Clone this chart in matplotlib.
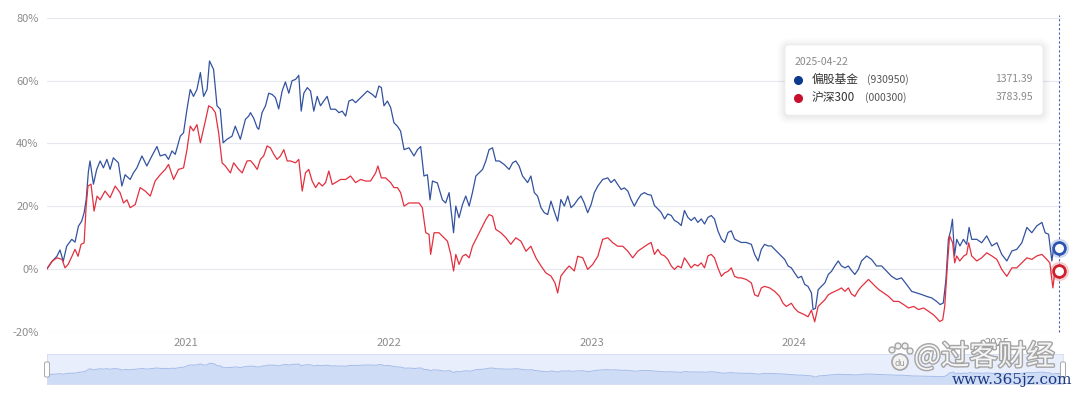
import numpy as np
import matplotlib.pyplot as plt
import matplotlib.patheffects as pe
from matplotlib.patches import FancyBboxPatch, Circle

plt.rcParams['font.family'] = ['Noto Sans CJK SC', 'DejaVu Sans']

# 偏股基金 (930950) 累计涨跌幅 %, 时间为小数年
fund_t = [2020.316, 2020.341, 2020.365, 2020.380, 2020.396, 2020.413, 2020.438, 2020.454, 2020.471, 2020.487,
          2020.499, 2020.509, 2020.520, 2020.528, 2020.545, 2020.561, 2020.578, 2020.594, 2020.611, 2020.627,
          2020.643, 2020.668, 2020.685, 2020.701, 2020.726, 2020.742, 2020.759, 2020.784, 2020.808, 2020.833,
          2020.858, 2020.874, 2020.899, 2020.915, 2020.932, 2020.948, 2020.973, 2020.989, 2021.006, 2021.022,
          2021.038, 2021.055, 2021.072, 2021.088, 2021.105, 2021.117, 2021.137, 2021.154, 2021.170, 2021.184,
          2021.203, 2021.228, 2021.244, 2021.269, 2021.294, 2021.310, 2021.319, 2021.335, 2021.352, 2021.360,
          2021.376, 2021.393, 2021.409, 2021.426, 2021.442, 2021.458, 2021.475, 2021.491, 2021.508, 2021.524,
          2021.541, 2021.557, 2021.569, 2021.582, 2021.599, 2021.615, 2021.631, 2021.648, 2021.664, 2021.680,
          2021.697, 2021.714, 2021.738, 2021.755, 2021.771, 2021.788, 2021.804, 2021.821, 2021.837, 2021.853,
          2021.878, 2021.895, 2021.920, 2021.936, 2021.952, 2021.964, 2021.977, 2021.994, 2022.010, 2022.026,
          2022.043, 2022.059, 2022.076, 2022.100, 2022.125, 2022.142, 2022.158, 2022.174, 2022.191, 2022.204,
          2022.216, 2022.240, 2022.265, 2022.281, 2022.298, 2022.320, 2022.331, 2022.347, 2022.364, 2022.380,
          2022.397, 2022.413, 2022.430, 2022.446, 2022.463, 2022.479, 2022.495, 2022.512, 2022.528, 2022.545,
          2022.569, 2022.594, 2022.611, 2022.627, 2022.643, 2022.660, 2022.685, 2022.701, 2022.718, 2022.734,
          2022.751, 2022.767, 2022.784, 2022.800, 2022.816, 2022.833, 2022.849, 2022.866, 2022.883, 2022.899,
          2022.915, 2022.932, 2022.948, 2022.964, 2022.981, 2022.998, 2023.014, 2023.031, 2023.055, 2023.080,
          2023.096, 2023.113, 2023.129, 2023.146, 2023.162, 2023.179, 2023.195, 2023.211, 2023.228, 2023.244,
          2023.261, 2023.277, 2023.294, 2023.310, 2023.327, 2023.343, 2023.360, 2023.376, 2023.393, 2023.409,
          2023.426, 2023.442, 2023.458, 2023.475, 2023.491, 2023.508, 2023.524, 2023.541, 2023.557, 2023.574,
          2023.590, 2023.606, 2023.623, 2023.640, 2023.656, 2023.673, 2023.689, 2023.705, 2023.722, 2023.738,
          2023.763, 2023.788, 2023.804, 2023.821, 2023.837, 2023.853, 2023.870, 2023.886, 2023.903, 2023.919,
          2023.936, 2023.952, 2023.969, 2023.985, 2024.001, 2024.018, 2024.035, 2024.051, 2024.067, 2024.084,
          2024.092, 2024.104, 2024.117, 2024.133, 2024.150, 2024.167, 2024.183, 2024.199, 2024.216, 2024.232,
          2024.249, 2024.266, 2024.281, 2024.298, 2024.315, 2024.331, 2024.356, 2024.380, 2024.405, 2024.430,
          2024.454, 2024.479, 2024.504, 2024.528, 2024.553, 2024.578, 2024.602, 2024.627, 2024.652, 2024.677,
          2024.701, 2024.718, 2024.734, 2024.747, 2024.759, 2024.770, 2024.779, 2024.789, 2024.800, 2024.816,
          2024.833, 2024.849, 2024.861, 2024.874, 2024.899, 2024.923, 2024.948, 2024.973, 2024.998, 2025.022,
          2025.047, 2025.072, 2025.096, 2025.121, 2025.146, 2025.170, 2025.195, 2025.220, 2025.236, 2025.253,
          2025.269, 2025.277, 2025.294, 2025.304]
fund_v = [0.0, 2.4, 4.0, 6.0, 2.4, 7.2, 9.4, 8.5, 13.6, 15.2,
          17.9, 22.0, 31.0, 34.4, 27.0, 31.7, 34.4, 32.2, 34.9, 31.7,
          35.4, 33.8, 26.4, 30.0, 28.5, 30.6, 32.2, 36.0, 32.8, 36.0,
          39.0, 36.0, 36.5, 34.9, 37.6, 36.5, 42.3, 43.4, 50.9, 57.2,
          55.0, 57.2, 62.6, 55.0, 57.2, 66.3, 63.6, 52.0, 50.9, 40.2,
          41.3, 42.3, 45.5, 41.3, 47.7, 48.7, 49.8, 48.0, 45.0, 44.5,
          49.8, 52.0, 56.0, 55.6, 54.6, 51.0, 56.7, 59.6, 56.0, 60.0,
          60.4, 61.7, 50.3, 56.0, 57.8, 56.7, 50.3, 55.0, 52.0, 53.5,
          55.0, 50.9, 50.9, 49.8, 50.3, 48.7, 53.5, 54.0, 53.0, 54.0,
          55.6, 56.7, 55.6, 54.6, 58.3, 57.8, 52.0, 53.5, 51.4, 46.6,
          45.5, 43.9, 38.0, 38.6, 36.0, 38.0, 39.0, 29.6, 30.0, 22.0,
          28.0, 27.4, 22.0, 21.0, 24.3, 11.5, 20.0, 16.3, 20.5, 23.2,
          20.0, 24.3, 29.6, 30.6, 31.7, 34.4, 38.0, 38.6, 34.4, 34.4,
          33.3, 31.7, 33.8, 34.4, 32.8, 29.6, 27.5, 29.6, 24.3, 23.2,
          19.5, 17.9, 17.3, 21.6, 18.4, 15.2, 22.1, 20.0, 23.2, 19.5,
          20.5, 22.1, 23.2, 21.0, 17.9, 20.5, 24.3, 26.4, 28.5, 29.0,
          27.5, 28.5, 26.9, 25.3, 25.8, 24.8, 22.1, 20.0, 22.1, 23.7,
          24.3, 23.7, 23.5, 20.2, 19.1, 18.0, 15.9, 17.5, 17.0, 15.4,
          14.8, 13.8, 18.6, 16.4, 15.4, 16.4, 14.8, 15.9, 14.3, 16.4,
          17.0, 15.9, 12.1, 9.5, 8.4, 11.6, 12.1, 9.5, 8.9, 8.4,
          8.4, 7.8, 4.6, 2.5, 6.2, 7.8, 7.3, 7.3, 6.2, 5.2,
          4.1, 3.0, 0.9, 0.3, -1.3, -2.9, -2.4, -5.0, -5.6, -7.7,
          -13.0, -12.6, -6.7, -5.6, -4.5, -1.8, -0.8, 0.9, 2.5, 0.9,
          0.3, 0.9, -0.5, -1.8, -0.2, 2.5, 4.1, 3.0, 0.9, 0.9,
          -0.7, -2.4, -3.4, -2.9, -5.0, -7.2, -7.7, -8.2, -8.8, -9.3,
          -10.4, -11.4, -10.9, -3.4, 9.4, 12.1, 15.8, 4.1, 9.4, 7.3,
          9.4, 7.8, 13.2, 9.4, 9.4, 8.3, 10.5, 7.3, 8.3, 4.6,
          2.5, 5.7, 6.2, 8.3, 13.2, 11.5, 13.7, 14.8, 11.5, 11.0,
          2.5, 6.2, 6.7, 6.7]

# 沪深300 (000300) 累计涨跌幅 %
hs_t = [2020.316, 2020.341, 2020.365, 2020.390, 2020.405, 2020.420, 2020.439, 2020.454, 2020.469, 2020.484,
        2020.499, 2020.509, 2020.518, 2020.533, 2020.548, 2020.563, 2020.578, 2020.602, 2020.627, 2020.652,
        2020.676, 2020.693, 2020.710, 2020.726, 2020.751, 2020.775, 2020.800, 2020.825, 2020.849, 2020.874,
        2020.899, 2020.915, 2020.940, 2020.964, 2020.989, 2021.006, 2021.022, 2021.038, 2021.055, 2021.072,
        2021.096, 2021.113, 2021.129, 2021.146, 2021.162, 2021.179, 2021.195, 2021.220, 2021.236, 2021.261,
        2021.278, 2021.302, 2021.319, 2021.335, 2021.352, 2021.368, 2021.384, 2021.401, 2021.417, 2021.434,
        2021.450, 2021.467, 2021.483, 2021.500, 2021.516, 2021.541, 2021.557, 2021.574, 2021.590, 2021.606,
        2021.623, 2021.640, 2021.656, 2021.673, 2021.689, 2021.705, 2021.722, 2021.738, 2021.763, 2021.788,
        2021.812, 2021.837, 2021.862, 2021.886, 2021.911, 2021.936, 2021.947, 2021.964, 2021.985, 2022.010,
        2022.026, 2022.043, 2022.059, 2022.076, 2022.100, 2022.125, 2022.150, 2022.166, 2022.183, 2022.199,
        2022.207, 2022.224, 2022.248, 2022.265, 2022.290, 2022.306, 2022.320, 2022.331, 2022.347, 2022.364,
        2022.380, 2022.397, 2022.413, 2022.430, 2022.446, 2022.463, 2022.479, 2022.495, 2022.512, 2022.528,
        2022.553, 2022.578, 2022.602, 2022.627, 2022.652, 2022.677, 2022.701, 2022.726, 2022.751, 2022.775,
        2022.800, 2022.820, 2022.833, 2022.849, 2022.874, 2022.890, 2022.915, 2022.932, 2022.957, 2022.981,
        2023.006, 2023.031, 2023.055, 2023.080, 2023.105, 2023.129, 2023.154, 2023.179, 2023.203, 2023.228,
        2023.252, 2023.277, 2023.294, 2023.310, 2023.327, 2023.343, 2023.360, 2023.376, 2023.393, 2023.409,
        2023.426, 2023.442, 2023.458, 2023.475, 2023.491, 2023.508, 2023.524, 2023.541, 2023.557, 2023.574,
        2023.590, 2023.606, 2023.623, 2023.640, 2023.656, 2023.673, 2023.689, 2023.705, 2023.722, 2023.738,
        2023.763, 2023.788, 2023.804, 2023.821, 2023.837, 2023.853, 2023.878, 2023.903, 2023.927, 2023.944,
        2023.960, 2023.985, 2024.001, 2024.018, 2024.035, 2024.051, 2024.067, 2024.084, 2024.100, 2024.117,
        2024.133, 2024.150, 2024.167, 2024.183, 2024.199, 2024.216, 2024.232, 2024.249, 2024.266, 2024.281,
        2024.298, 2024.315, 2024.331, 2024.341, 2024.365, 2024.390, 2024.415, 2024.440, 2024.464, 2024.489,
        2024.514, 2024.538, 2024.563, 2024.588, 2024.612, 2024.637, 2024.662, 2024.686, 2024.701, 2024.716,
        2024.731, 2024.741, 2024.756, 2024.765, 2024.780, 2024.790, 2024.800, 2024.815, 2024.835, 2024.849,
        2024.859, 2024.874, 2024.899, 2024.923, 2024.948, 2024.973, 2024.998, 2025.022, 2025.047, 2025.072,
        2025.096, 2025.121, 2025.146, 2025.170, 2025.195, 2025.220, 2025.244, 2025.259, 2025.274, 2025.284,
        2025.294, 2025.304]
hs_v = [0.0, 2.4, 3.5, 3.0, 0.3, 1.4, 4.0, 6.2, 4.0, 7.8,
        8.3, 20.0, 26.4, 27.0, 18.4, 23.2, 22.0, 24.8, 22.7, 26.4,
        24.3, 21.0, 22.0, 19.5, 20.5, 25.9, 24.8, 23.2, 28.0, 30.0,
        31.7, 33.3, 28.5, 31.7, 32.2, 38.0, 45.5, 44.0, 46.0, 40.2,
        47.0, 52.0, 51.4, 49.8, 43.4, 33.8, 32.8, 30.6, 33.8, 31.7,
        30.6, 34.4, 34.5, 33.3, 31.7, 34.9, 36.0, 39.2, 38.6, 36.5,
        34.9, 36.0, 38.0, 34.4, 34.4, 33.8, 34.9, 24.8, 30.6, 31.7,
        28.0, 25.9, 27.5, 26.4, 27.5, 31.2, 26.9, 27.5, 28.5, 28.5,
        29.6, 27.5, 28.5, 28.0, 28.0, 30.6, 32.8, 29.0, 29.0, 27.5,
        25.9, 25.9, 24.3, 20.0, 21.0, 21.0, 21.0, 19.5, 11.5, 11.0,
        4.6, 11.5, 11.5, 10.4, 8.8, 4.6, -0.7, 4.6, 1.4, 4.0,
        4.6, 3.5, 7.2, 9.4, 11.5, 13.6, 15.7, 17.3, 16.8, 12.6,
        11.5, 9.9, 7.8, 9.9, 8.8, 5.6, 7.2, 3.5, 0.9, -1.3,
        -2.3, -4.5, -7.7, -2.3, -0.2, 0.9, -0.7, 4.0, 3.5, -0.2,
        1.4, 4.0, 9.4, 9.9, 8.3, 7.2, 7.2, 5.6, 3.5, 5.6,
        6.7, 7.8, 8.4, 4.6, 6.2, 4.6, 4.1, 3.0, 0.9, -0.2,
        0.9, 0.3, 3.5, 1.9, 0.3, 1.4, 0.9, 1.9, 0.3, 4.1,
        4.6, 3.5, 0.3, -2.4, -1.3, -0.8, 0.3, -2.4, -2.9, -2.9,
        -3.4, -4.5, -8.3, -8.8, -6.1, -5.6, -6.1, -7.2, -8.8, -11.0,
        -12.0, -11.0, -12.6, -13.7, -14.2, -14.7, -15.3, -13.2, -16.9, -12.0,
        -11.0, -9.9, -8.3, -7.7, -7.2, -6.7, -6.1, -7.2, -6.1, -8.0,
        -8.8, -6.9, -5.6, -5.0, -3.4, -5.0, -6.6, -7.7, -8.8, -10.4,
        -10.4, -11.4, -12.5, -12.0, -13.0, -12.5, -13.6, -14.7, -15.7, -16.8,
        -16.3, -12.0, 3.0, 10.5, 8.3, 1.9, 4.1, 2.5, 4.1, 4.6,
        8.3, 4.1, 2.5, 3.5, 5.1, 4.1, 3.0, -0.2, -2.4, 0.3,
        0.3, 1.9, 3.5, 3.0, 4.1, 4.6, 3.0, 1.9, -6.1, -0.7,
        0.3, -0.7]

year_ticks = [2021, 2022, 2023, 2024, 2025]
pct_ticks = [-20, 0, 20, 40, 60, 80]

tip_date = '2025-04-22'
tip_names = ['偏股基金', '沪深300']
tip_codes = ['(930950)', '(000300)']
tip_values = ['1371.39', '3783.95']

W, H = 1080, 396
BLUE = '#33529f'
RED = '#e3303f'

fig = plt.figure(figsize=(W / 100, H / 100), dpi=100)


def box(x0, y0, x1, y1):
    # pixel box (top-left origin) -> figure fraction rect
    return [x0 / W, 1 - y1 / H, (x1 - x0) / W, (y1 - y0) / H]


x_end = fund_t[-1] + 0.015

ax = fig.add_axes(box(47, 18, 1062, 331.5))
ax.plot(fund_t, fund_v, color=BLUE, lw=0.9, zorder=3)
ax.plot(hs_t, hs_v, color=RED, lw=0.9, zorder=3)
ax.set_xlim(fund_t[0], x_end)
ax.set_ylim(-20, 80)
ax.set_yticks(pct_ticks)
ax.set_yticklabels([f'{v}%' for v in pct_ticks])
ax.set_xticks(year_ticks)
ax.set_xticklabels([str(y) for y in year_ticks])
ax.grid(axis='y', color='#e6e8ef', lw=0.8)
ax.tick_params(length=0, labelcolor='#8c8c8c', labelsize=8)
ax.tick_params(axis='y', pad=6)
ax.tick_params(axis='x', pad=5)
for s in ax.spines.values():
    s.set_visible(False)

# crosshair + end markers
ax.axvline(fund_t[-1], ymin=0, ymax=1.01, color='#4a62b8', lw=0.8, ls=(0, (2, 2)), clip_on=False, zorder=2)
for vals, col in [(fund_v, '#2c55b0'), (hs_v, '#d0202f')]:
    ax.plot(fund_t[-1], vals[-1], 'o', ms=13, color=col, alpha=0.15, clip_on=False, zorder=4)
    ax.plot(fund_t[-1], vals[-1], 'o', ms=8.5, mfc='white', mec=col, mew=2, clip_on=False, zorder=5)

# navigator
nav = fig.add_axes(box(47, 354, 1063, 384))
nav.set_facecolor('#e8eefb')
nav.fill_between(fund_t, fund_v, -54, color='#cfdcf6', lw=0)
nav.plot(fund_t, fund_v, color='#a5bdeb', lw=0.7)
nav.set_xlim(fund_t[0], x_end)
nav.set_ylim(-54, 120)
nav.set_xticks([])
nav.set_yticks([])
for s in nav.spines.values():
    s.set_color('#d3ddf2')
    s.set_linewidth(0.6)

# overlay in pixel coords for tooltip / handles / watermark
ov = fig.add_axes([0, 0, 1, 1], zorder=10)
ov.set_xlim(0, W)
ov.set_ylim(H, 0)
ov.axis('off')
ov.patch.set_alpha(0)

for hx in (44.5, 1060.5):
    ov.add_patch(FancyBboxPatch((hx, 362), 5, 15, boxstyle='round,pad=0,rounding_size=1.5',
                                fc='white', ec='#a9a9a9', lw=0.7))

for k, a in enumerate([0.025, 0.02, 0.015, 0.01]):
    p = 2 + 2 * k
    ov.add_patch(FancyBboxPatch((785 - p, 46 - p), 258 + 2 * p, 70 + 2 * p,
                                boxstyle=f'round,pad=0,rounding_size={4 + p}', fc='black', ec='none', alpha=a))
ov.add_patch(FancyBboxPatch((785, 45), 258, 70, boxstyle='round,pad=0,rounding_size=4',
                            fc='white', ec='#ececec', lw=0.5))
ov.text(795, 62, tip_date, color='#8a8a8a', fontsize=7.5, va='center')
for i, (nm, cd, vl, col) in enumerate(zip(tip_names, tip_codes, tip_values, ['#0b3a8f', '#c8102e'])):
    yy = 79.5 + 18 * i
    ov.plot(798, yy, 'o', ms=5.5, color=col)
    ov.text(812, yy, nm, color='#333333', fontsize=8.5, va='center')
    ov.text(867 - 2 * i, yy + 0.5, cd, color='#555555', fontsize=7.5, va='center')
    ov.text(1033, yy, vl, color='#8a8a8a', fontsize=7.5, va='center', ha='right')

# watermark (overlaps the 2025 label, as in the source image)
stroke = [pe.withStroke(linewidth=2, foreground='#a4a4a4')]
ov.add_patch(Circle((900, 362), 8, fc='#f2f2f2', ec='#a4a4a4', lw=1.2))
for cx, cy, r in [(892, 350, 3), (898, 346, 3), (905, 346, 3), (910, 351, 3)]:
    ov.add_patch(Circle((cx, cy), r, fc='#f2f2f2', ec='#a4a4a4', lw=1.0))
ov.text(900, 363, 'du', fontsize=6, color='#9a9a9a', ha='center', va='center', family='DejaVu Sans')
ov.text(914, 357, '@过客财经', fontsize=20.5, color='#f4f4f4', va='center', path_effects=stroke)
ov.text(1072, 380, 'www.365jz.com', fontsize=11, color='#1d3a80', ha='right', va='center',
        family='DejaVu Serif')

fig.savefig('out.png', dpi=100)
